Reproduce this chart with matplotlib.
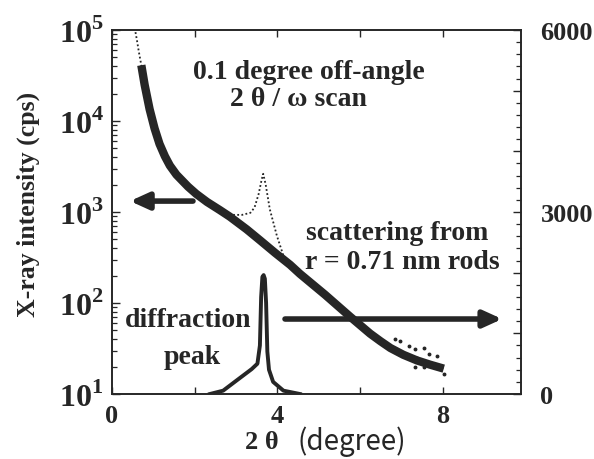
import matplotlib
matplotlib.use("Agg")
import matplotlib.pyplot as plt
import numpy as np

plt.rcParams['font.family'] = ['Liberation Serif', 'DejaVu Serif']
plt.rcParams['font.weight'] = 'bold'
plt.rcParams['mathtext.fontset'] = 'custom'
plt.rcParams['mathtext.rm'] = 'Liberation Serif'
plt.rcParams['mathtext.bf'] = 'Liberation Serif:bold'

# ---- data ----
# thick curve: fitted scattering from rods (left, log axis)
fit_x = [0.71, 0.79, 0.91, 1.03, 1.15, 1.28, 1.40, 1.56, 1.84, 2.04, 2.30, 2.61, 2.85,
         3.26, 3.58, 3.95, 4.31, 4.55, 5.16, 5.76, 6.25, 6.50, 6.74, 7.05, 7.38, 7.70, 8.03]
fit_y = [41000, 25000, 13500, 8300, 5600, 4100, 3240, 2570, 1900, 1580, 1290, 1050, 890,
         645, 490, 355, 263, 209, 123, 71, 46, 38, 32, 27, 23.4, 21, 19]

# dotted curve: measured 2theta/omega scan (left, log axis)
meas_x = [0.55, 0.60, 0.65, 0.71, 0.79, 0.91, 1.03, 1.15, 1.28, 1.40, 1.56, 1.84, 2.04,
          2.30, 2.61, 2.75, 2.95, 3.15, 3.35, 3.45, 3.55, 3.62, 3.66, 3.72, 3.82,
          3.99, 4.15, 4.30, 4.55, 5.16, 5.76, 6.25, 6.74, 7.38, 8.03]
meas_y = [105000, 79000, 57500, 41000, 25000, 13500, 8300, 5600, 4100, 3240, 2570, 1900, 1580,
          1290, 1050, 980, 930, 930, 980, 1120, 1580, 2240, 2630, 2000, 1070,
          550, 330, 265, 209, 123, 71, 46, 32, 23.4, 19]

# scattered measured points at high angle
noise_x = [6.86, 6.98, 7.18, 7.34, 7.54, 7.38, 7.67, 7.87, 7.34, 7.54, 8.03]
noise_y = [40, 38.5, 34, 31, 32, 25, 27.5, 26.3, 19.6, 19.6, 16.6]

# diffraction peak (right, linear axis)
peak_x = [2.37, 2.69, 3.01, 3.38, 3.52, 3.58, 3.61, 3.64, 3.67, 3.70, 3.73, 3.76,
          3.80, 3.90, 4.15, 4.55]
peak_y = [0, 55, 220, 410, 500, 800, 1600, 1930, 1960, 1900, 1500, 700,
          400, 200, 55, 0]

x_ticks = [0, 2, 4, 6, 8]
x_labels = ['0', '', '4', '', '8']
left_ticks = [1e1, 1e2, 1e3, 1e4, 1e5]
left_labels = [r'$\mathbf{10}^{1}$', r'$\mathbf{10}^{2}$', r'$\mathbf{10}^{3}$',
               r'$\mathbf{10}^{4}$', r'$\mathbf{10}^{5}$']
right_major = [0, 1000, 2000, 3000, 4000, 5000, 6000]
right_labels = ['0', '', '', '3000', '', '', '6000']

ink = '#262626'

fig = plt.figure(figsize=(5.94, 4.60), dpi=100)
ax = fig.add_axes([112/594, 1-395/460, (521-112)/594, (395-31)/460])
ax2 = ax.twinx()

ax.set_yscale('log')
ax.set_xlim(0, 9.9)
ax.set_ylim(10, 1e5)
ax2.set_ylim(0, 6000)

ax.plot(meas_x, meas_y, color=ink, lw=1.3, ls=(0, (1, 1.3)), zorder=2)
ax.plot(noise_x, noise_y, ls='none', marker='o', ms=1.8, color=ink, zorder=2)
ax.plot(fit_x, fit_y, color=ink, lw=6.0, solid_capstyle='butt',
        solid_joinstyle='round', zorder=3)
ax2.plot(peak_x, peak_y, color=ink, lw=2.8, solid_joinstyle='round', zorder=3)

# ticks
ax.set_xticks(x_ticks)
ax.set_xticklabels(x_labels)
ax.set_yticks(left_ticks)
ax.set_yticklabels(left_labels)
ax.tick_params(axis='x', which='both', direction='in', top=True, length=5, width=1,
               labelsize=19, pad=7, colors=ink)
ax.tick_params(axis='y', which='major', direction='in', length=6, width=1,
               labelsize=23, pad=6, colors=ink)
ax.tick_params(axis='y', which='minor', direction='in', length=3.5, width=0.9, colors=ink)
ax2.set_yticks(right_major)
ax2.set_yticklabels(right_labels)
ax2.set_yticks(np.arange(0, 6001, 200), minor=True)
ax2.tick_params(axis='y', which='major', direction='in', length=6, width=1,
                labelsize=19, pad=14, colors=ink)
ax2.tick_params(axis='y', which='minor', direction='in', length=3.5, width=0.9, colors=ink)
for a in (ax, ax2):
    for s in a.spines.values():
        s.set_linewidth(1.2)
        s.set_color(ink)

# texts
tkw = dict(transform=ax.transAxes, ha='center', va='center', fontsize=20,
           fontweight='bold', color=ink)
ax.text(0.482, 0.885, '0.1 degree off-angle', **tkw)
ax.text(0.455, 0.811, '2 θ / ω scan', **tkw)
ax.text(0.697, 0.445, 'scattering from', **tkw)
ax.text(0.709, 0.365, 'r = 0.71 nm rods', **tkw)
ax.text(0.186, 0.206, 'diffraction', **tkw)
ax.text(0.196, 0.104, 'peak', **tkw)

akw = dict(arrowstyle='-|>,head_length=1.1,head_width=0.5', lw=4, color=ink,
           shrinkA=0, shrinkB=0)
ax.annotate('', xy=(0.044, 0.530), xytext=(0.198, 0.530), xycoords='axes fraction',
            arrowprops=akw)
ax.annotate('', xy=(0.954, 0.206), xytext=(0.423, 0.206), xycoords='axes fraction',
            arrowprops=akw)

fig.text(0.047, 1-204/460, 'X-ray intensity (cps)', rotation=90, ha='center',
         va='center', fontsize=18.5, fontweight='bold', color=ink)
fig.text(262/594, 1-443/460, '2 θ', ha='center', va='center', fontsize=19,
         fontweight='bold', color=ink)
fig.text(352/594, 1-442/460, '(degree)', ha='center', va='center', fontsize=20,
         fontweight='normal', family=['Noto Sans CJK JP', 'DejaVu Sans'], color=ink)

fig.savefig('out.png', dpi=100)
